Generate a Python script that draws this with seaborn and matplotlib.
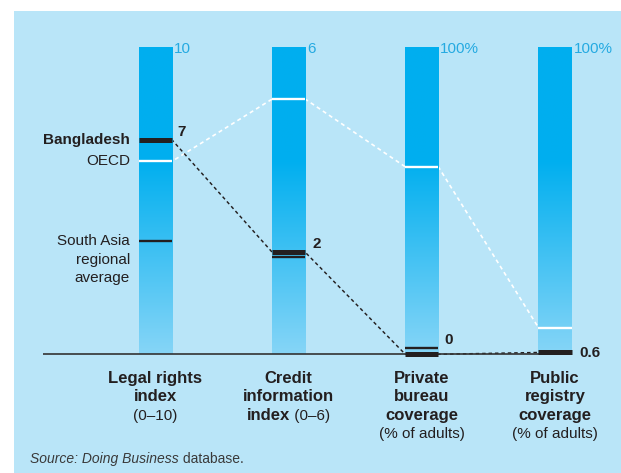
import matplotlib
matplotlib.use("Agg")
import matplotlib.pyplot as plt
import seaborn as sns
import numpy as np
import pandas as pd
from matplotlib.colors import LinearSegmentedColormap

# ---------------- data ----------------
categories = ["Legal rights index", "Credit information index",
              "Private bureau coverage", "Public registry coverage"]
scale_max = [10, 6, 100, 100]
scale_labels = ["10", "6", "100%", "100%"]
bangladesh = [7, 2, 0, 0.6]
bangladesh_labels = ["7", "2", "0", "0.6"]
oecd = [6.3, 5.0, 61.2, 8.7]
south_asia = [3.7, 1.9, 2.2, np.nan]
series_names = ["Bangladesh", "OECD", "South Asia\nregional\naverage"]
category_lines = [
    [[("Legal rights", "bold")], [("index", "bold")], [("(0\u201310)", "normal")]],
    [[("Credit", "bold")], [("information", "bold")], [("index", "bold"), (" (0\u20136)", "normal")]],
    [[("Private", "bold")], [("bureau", "bold")], [("coverage", "bold")], [("(% of adults)", "normal")]],
    [[("Public", "bold")], [("registry", "bold")], [("coverage", "bold")], [("(% of adults)", "normal")]],
]
source_italic = "Source: Doing Business"
source_rest = " database."

# ---------------- style ----------------
sns.set_theme(style="white")
plt.rcParams["font.family"] = ["Liberation Sans", "DejaVu Sans"]

BG = "#B9E5F8"
DARK = "#231F20"
CYAN = "#25AAE1"
W, H = 621, 473
DPI = 100

fig = plt.figure(figsize=(W / DPI, H / DPI), dpi=DPI)
fig.patch.set_facecolor("white")
ax = fig.add_axes([14 / W, 0, (W - 14) / W, (H - 11) / H])
ax.set_facecolor(BG)

df = pd.DataFrame({
    "category": categories,
    "full": [1.0] * len(categories),
})
bar_w = 0.248
sns.barplot(data=df, x="category", y="full", width=bar_w, ax=ax,
            color="#00AEEF", saturation=1, errorbar=None)

cmap = LinearSegmentedColormap.from_list(
    "bar", [(0.0, "#86D5F7"), (0.63, "#00AFEF"), (1.0, "#00AEEF")])
grad = np.linspace(0, 1, 256).reshape(-1, 1)
for p in ax.patches:
    x0 = p.get_x()
    x1 = x0 + p.get_width()
    ax.imshow(grad, extent=(x0, x1, 0, p.get_height()), origin="lower",
              aspect="auto", cmap=cmap, zorder=1, interpolation="bicubic")
    p.set_facecolor("none")
    p.set_edgecolor("none")

n = len(categories)
pos = np.arange(n)
bd_n = np.array(bangladesh) / np.array(scale_max)
oe_n = np.array(oecd) / np.array(scale_max)
sa_n = np.array(south_asia) / np.array(scale_max)

# connecting dashed lines (drawn beneath bars)
def conn(vals):
    xs, ys = [], []
    for i in range(n):
        xs += [pos[i] - bar_w / 2, pos[i] + bar_w / 2]
        ys += [vals[i], vals[i]]
    return xs, ys

xs, ys = conn(oe_n)
sns.lineplot(x=xs, y=ys, sort=False, estimator=None, ax=ax, color="white",
             lw=1.2, linestyle=(0, (2.4, 2.0)), zorder=0.6)
xs, ys = conn(bd_n)
sns.lineplot(x=xs, y=ys, sort=False, estimator=None, ax=ax, color=DARK,
             lw=1.05, linestyle=(0, (2.4, 2.0)), zorder=0.6)

# baseline
ax.hlines(0, -0.845, pos[-1] + bar_w / 2, color="#333333", lw=1.2, zorder=2)

# markers
ax.hlines(oe_n, pos - bar_w / 2, pos + bar_w / 2, color="white", lw=1.7, zorder=3)
m = ~np.isnan(sa_n)
ax.hlines(sa_n[m], pos[m] - bar_w / 2, pos[m] + bar_w / 2, color=DARK, lw=1.7, zorder=3)
ax.hlines(bd_n, pos - bar_w / 2, pos + bar_w / 2, color=DARK, lw=3.6, zorder=4)

# scale labels on top
for i in range(n):
    ax.annotate(scale_labels[i], xy=(pos[i] + bar_w / 2, 1.0), xytext=(2, -1),
                textcoords="offset pixels", ha="left", va="center",
                color=CYAN, fontsize=11)

# value labels for Bangladesh
val_offsets = [(5, 8), (7, 8.5), (6, 14), (8, -1)]
for i in range(n):
    ax.annotate(bangladesh_labels[i], xy=(pos[i] + bar_w / 2, bd_n[i]),
                xytext=val_offsets[i], textcoords="offset pixels",
                ha="left", va="center", color=DARK, fontsize=11,
                fontweight="bold")

# series labels on the left of first bar
ax.annotate(series_names[0], xy=(pos[0] - bar_w / 2, bd_n[0]), xytext=(-9, 0),
            textcoords="offset pixels", ha="right", va="center",
            color=DARK, fontsize=11, fontweight="bold")
ax.annotate(series_names[1], xy=(pos[0] - bar_w / 2, oe_n[0]), xytext=(-9, 0),
            textcoords="offset pixels", ha="right", va="center",
            color=DARK, fontsize=11)
ax.annotate(series_names[2], xy=(pos[0] - bar_w / 2, sa_n[0]), xytext=(-9, 7),
            textcoords="offset pixels", ha="right", va="top",
            color=DARK, fontsize=11, linespacing=1.42)

# category labels below
fig.canvas.draw()
renderer = fig.canvas.get_renderer()
line_step = 18.8
first_drop = 354.3 - 378  # pixels from baseline to first line centre (negative)
for i in range(n):
    for li, segs in enumerate(category_lines[i]):
        dy = first_drop - li * line_step
        if len(segs) == 1:
            txt, wt = segs[0]
            ax.annotate(txt, xy=(pos[i], 0), xytext=(0, dy), textcoords="offset pixels",
                        ha="center", va="center", color=DARK,
                        fontsize=12 if wt == "bold" else 11, fontweight=wt)
        else:
            widths = []
            for txt, wt in segs:
                t = ax.text(0, 0, txt, fontsize=12 if wt == "bold" else 11, fontweight=wt)
                widths.append(t.get_window_extent(renderer).width)
                t.remove()
            total = sum(widths)
            x_off = -total / 2
            for (txt, wt), wd in zip(segs, widths):
                ax.annotate(txt, xy=(pos[i], 0), xytext=(x_off, dy),
                            textcoords="offset pixels", ha="left", va="center",
                            color=DARK, fontsize=12 if wt == "bold" else 11,
                            fontweight=wt)
                x_off += wd

# source line
t1 = fig.text(30 / W, 1 - 459 / H, source_italic, ha="left", va="center",
              fontsize=10, style="italic", color="#3a3a3a")
fig.canvas.draw()
ext = t1.get_window_extent(renderer)
fig.text(ext.x1 / W, 1 - 459 / H, source_rest, ha="left", va="center",
         fontsize=10, color="#3a3a3a")

# axes limits mapping: px_x = 155.5 + 133.17*x ; px_y = 354.3 - 306.3*y
ax.set_xlim((14 - 155.5) / 133.17, (621 - 155.5) / 133.17)
ax.set_ylim((354.3 - 473) / 306.3, (354.3 - 11) / 306.3)
ax.set_xticks([])
ax.set_yticks([])
ax.set_xlabel("")
ax.set_ylabel("")
for s in ax.spines.values():
    s.set_visible(False)

fig.savefig("out.png", dpi=DPI)
